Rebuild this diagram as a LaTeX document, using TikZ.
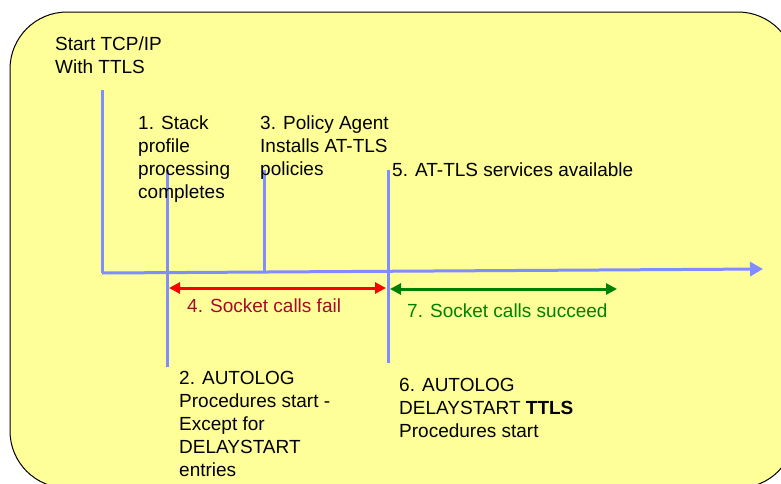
\documentclass[tikz,border=0pt]{standalone}
\usepackage{fontspec}
\setmainfont{Liberation Sans}
\usetikzlibrary{arrows.meta}
\definecolor{panel}{RGB}{255,255,153}
\definecolor{rule}{RGB}{128,140,255}
\definecolor{failtxt}{RGB}{165,10,45}
\definecolor{okgreen}{RGB}{0,128,0}
\tikzset{
  lbl/.style={anchor=base west, inner sep=0pt, align=left,
    font=\fontsize{19}{23}\selectfont},
  tick/.style={draw=rule, line width=3pt},
  span/.style={line width=3pt, {Triangle[length=11pt,width=11pt]}-{Triangle[length=11pt,width=11pt]}},
}
\begin{document}
\begin{tikzpicture}[x=1pt,y=-1pt]
  \useasboundingbox (0,0) rectangle (781,483);
  \begin{scope}
    \clip (0,0) rectangle (781,483);
    \draw[fill=panel, line width=1pt, rounded corners=57pt] (10,12) rectangle (795,488);
  \end{scope}

  % time axis and event markers
  \coordinate (o) at (102,90);
  \coordinate (ax0) at (102,273);
  \coordinate (ax1) at (763,269);
  \draw[tick] (o) -- (ax0);
  \draw[draw=rule, line width=3pt, -{Triangle[length=13pt,width=14pt]}] (ax0) -- (ax1);

  \coordinate (m1t) at (167,170); \coordinate (m1b) at (167,367);
  \coordinate (m3t) at (264,170); \coordinate (m3b) at (264,271);
  \coordinate (m5t) at (388,170); \coordinate (m5b) at (388,363);
  \draw[tick] (m1t) -- (m1b);
  \draw[tick] (m3t) -- (m3b);
  \draw[tick] (m5t) -- (m5b);

  % socket call windows
  \coordinate (r0) at (169,288); \coordinate (r1) at (386,288);
  \coordinate (g0) at (390,289); \coordinate (g1) at (617,289);
  \draw[span, red] (r0) -- (r1);
  \draw[span, okgreen] (g0) -- (g1);

  % labels (placed by the baseline of their last line)
  \node[lbl] (start) at (55,73) {Start TCP/IP\\With TTLS};
  \node[lbl] (e1) at (138,198) {1. Stack\\profile\\processing\\completes};
  \node[lbl] (e3) at (260,175) {3. Policy Agent\\Installs AT-TLS\\policies};
  \node[lbl] (e5) at (392,176) {5. AT-TLS services available};
  \node[lbl, text=failtxt] (e4) at (187,312) {4. Socket calls fail};
  \node[lbl, text=okgreen] (e7) at (407,317) {7. Socket calls succeed};
  \node[lbl] (e2) at (179,476) {2. AUTOLOG\\Procedures start -\\Except for\\DELAYSTART\\entries};
  \node[lbl] (e6) at (399,437) {6. AUTOLOG\\DELAYSTART \textbf{TTLS}\\Procedures start};
\end{tikzpicture}
\end{document}
